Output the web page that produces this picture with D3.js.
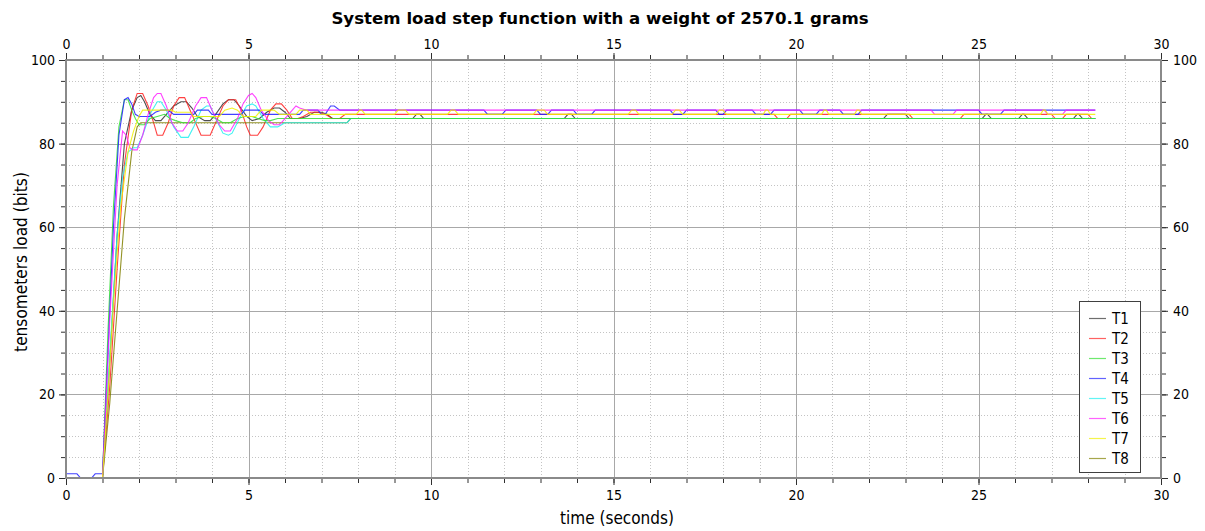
<!DOCTYPE html>
<html><head><meta charset="utf-8">
<script src="https://cdn.jsdelivr.net/npm/d3@7"></script>
<style>
html,body{margin:0;padding:0;background:#fff;}
svg{display:block;}
text{font-family:"DejaVu Sans Condensed","DejaVu Sans","Noto Sans",sans-serif;fill:#000;}
</style></head>
<body>
<svg id="chart" width="1205" height="531"></svg>
<script>
// ---- data (vertices [time s, load bits]) ----
const seriesNames = ["T1","T2","T3","T4","T5","T6","T7","T8"];
const seriesColors = ["#303030","#ff2020","#30e030","#2020ff","#20f0f0","#ff20ff","#f0f000","#808000"];
const drawOrder = [0,1,7,4,2,3,5,6];
const xTicks = [0,5,10,15,20,25,30];
const yTicks = [0,20,40,60,80,100];

const T1 = [[0,0],[1.0,0],[1.2,28],[1.4,58],[1.6,80],[1.8,88],[1.95,91],[2.05,91.5],[2.15,90],[2.3,87],[2.45,85.5],[2.6,85.5],[2.75,87],[2.95,89],[3.15,90],[3.3,90],[3.45,88.5],[3.6,86.5],[3.8,85.5],[3.95,85.5],[4.1,87],[4.3,89.5],[4.45,90.5],[4.6,90.5],[4.75,89],[4.95,86.5],[5.1,85.5],[5.3,86],[5.5,87.5],[5.7,88.5],[5.85,88.5],[6.0,87.5],[6.15,86],[6.4,86],[6.6,86.5],[6.8,87.5],[7.0,87.5],[7.15,87],[7.3,86],[9.5,86],[9.6,87],[9.7,87],[9.8,86],[13.65,86],[13.75,87],[13.85,87],[13.95,86],[22.4,86],[22.5,87],[23.0,87],[23.1,86],[25.1,86],[25.2,87],[25.25,87],[25.35,86],[26.1,86],[26.2,87],[26.25,87],[26.35,86],[27.6,86],[27.7,87],[27.75,87],[27.85,86],[28.2,86]];
const T2 = [[0,0],[1.0,0],[1.2,22],[1.4,50],[1.6,75],[1.8,88],[1.95,92],[2.1,92],[2.25,89],[2.4,85],[2.5,82],[2.65,82],[2.8,85],[2.95,89],[3.1,91],[3.25,91],[3.4,88],[3.6,84],[3.7,82],[3.95,82],[4.1,85],[4.3,89],[4.45,90.5],[4.65,90.5],[4.8,88],[4.95,84],[5.05,82],[5.25,82],[5.4,84],[5.6,88],[5.75,89.5],[5.9,89.5],[6.05,88],[6.2,86],[6.35,86],[6.5,86.5],[6.7,87.5],[6.9,87.5],[7.1,87],[7.3,86],[7.5,86],[7.65,87],[19.4,87],[19.5,86],[19.75,86],[19.85,87],[23.1,87],[23.2,86],[24.5,86],[24.6,87],[27.0,87],[27.1,86],[27.3,86],[27.4,87],[28.0,87],[28.1,86],[28.2,86]];
const T3 = [[0,0],[1.0,0],[1.15,35],[1.3,65],[1.45,84],[1.6,90.5],[1.7,90.5],[1.8,88],[1.9,86],[2.0,84.5],[2.15,84.5],[2.3,86],[2.5,86.5],[2.7,87],[2.85,86],[3.0,85.5],[3.2,85],[3.4,85],[3.55,86],[3.75,86.5],[3.95,86.5],[4.1,86],[4.3,85],[4.5,85],[4.7,86],[4.9,86.5],[5.1,86.5],[5.25,86],[5.45,85.5],[5.6,85.5],[5.8,86],[28.2,86]];
const T4 = [[0,1],[0.3,1],[0.4,0],[0.7,0],[0.8,1],[1.0,1],[1.15,30],[1.3,60],[1.45,82],[1.6,90.5],[1.7,91],[1.8,89.5],[1.9,87],[2.0,86.5],[2.3,86.5],[2.45,87.5],[2.6,88],[2.8,88],[2.95,87],[3.5,87],[3.6,88],[3.9,88],[4.0,87],[4.8,87],[4.9,88],[5.3,88],[5.4,87],[6.4,87],[6.5,88],[6.9,88],[7.0,87],[7.1,87],[7.25,89],[7.35,89],[7.5,88],[11.45,88],[11.55,87],[11.95,87],[12.05,88],[12.9,88],[13.0,87],[13.2,87],[13.3,88],[13.9,88],[14.0,87],[14.4,87],[14.5,88],[16.55,88],[16.65,87],[16.9,87],[17.0,88],[17.8,88],[17.9,87],[18.0,87],[18.1,88],[18.8,88],[18.9,87],[19.3,87],[19.4,88],[20.1,88],[20.2,87],[20.55,87],[20.65,88],[21.2,88],[21.3,87],[21.7,87],[21.8,88],[25.0,88],[25.1,87],[25.6,87],[25.7,88],[28.2,88]];
const T5 = [[0,0],[1.0,0],[1.2,30],[1.4,58],[1.55,72],[1.7,78],[1.85,79],[1.95,79],[2.1,82],[2.3,87],[2.5,90],[2.6,90],[2.75,88],[2.95,84],[3.15,81.5],[3.35,81.5],[3.5,84],[3.7,88],[3.85,89],[3.95,89],[4.1,86],[4.3,82.5],[4.45,82],[4.55,82.5],[4.75,86],[4.95,89],[5.1,89.5],[5.2,89],[5.4,86],[5.6,84],[5.8,84],[6.0,85],[7.7,85],[7.8,86],[28.2,86]];
const T6 = [[0,0],[1.0,0],[1.2,38],[1.4,70],[1.55,83],[1.65,82],[1.75,79],[1.85,78.5],[1.95,78.5],[2.1,82],[2.25,87],[2.4,91],[2.5,92],[2.6,92],[2.75,89],[2.9,85],[3.05,83],[3.2,83],[3.35,85],[3.55,89],[3.7,91],[3.85,91],[4.0,88],[4.2,84.5],[4.35,83],[4.5,83],[4.7,86],[4.85,89.5],[5.0,91.5],[5.1,92],[5.2,91],[5.35,88],[5.55,85.5],[5.7,84.5],[5.85,84.5],[6.0,86],[6.2,88],[6.3,89],[6.4,88.5],[6.6,88],[23.7,88],[23.8,87],[24.3,87],[24.4,88],[26.8,88],[26.9,87],[27.3,87],[27.4,88],[28.2,88]];
const T7 = [[0,0],[1.0,0],[1.15,20],[1.3,42],[1.5,65],[1.7,78],[1.85,83],[2.0,86.5],[2.1,88],[2.9,88],[3.0,87.5],[3.4,87.5],[3.5,86.5],[4.2,86.5],[4.35,88],[4.55,88.5],[4.7,88],[4.85,86.5],[5.2,86.5],[5.35,88],[5.7,88],[5.85,87],[6.3,87],[6.4,88],[6.6,88],[6.7,87],[7.95,87],[8.05,88],[8.1,88],[8.2,87],[9.0,87],[9.1,88],[9.3,88],[9.4,87],[10.45,87],[10.55,88],[10.65,88],[10.75,87],[12.8,87],[12.9,88],[13.1,88],[13.2,87],[15.4,87],[15.5,88],[15.6,88],[15.7,87],[16.6,87],[16.7,88],[16.8,88],[16.9,87],[17.8,87],[17.9,88],[18.0,88],[18.1,87],[19.1,87],[19.17,88],[19.23,88],[19.3,87],[20.7,87],[20.77,88],[20.83,88],[20.9,87],[21.6,87],[21.67,88],[21.73,88],[21.8,87],[26.7,87],[26.77,88],[26.83,88],[26.9,87],[28.2,87]];
const T8 = [[0,0],[1.0,0],[1.2,18],[1.4,40],[1.6,62],[1.8,78],[1.95,84],[2.05,85],[7.7,85],[7.8,86],[28.2,86]];
const seriesData = [T1,T2,T3,T4,T5,T6,T7,T8];

// ---- layout ----
const L = 66, R = 1161, TOP = 60, BOT = 478;
const svg = d3.select("#chart");
const x = d3.scaleLinear().domain([0,30]).range([L,R]);
const y = d3.scaleLinear().domain([0,100]).range([BOT,TOP]);

// grid
const gGrid = svg.append("g");
const xMinor = d3.range(0,31).filter(d=>d%5!==0);
const yMinor = d3.range(0,101,5).filter(d=>d%20!==0);
gGrid.selectAll(".vx").data(xMinor).join("line")
  .attr("x1",d=>Math.round(x(d))+0.5).attr("x2",d=>Math.round(x(d))+0.5).attr("y1",TOP).attr("y2",BOT)
  .attr("stroke","#c4c4c4").attr("stroke-dasharray","1,2");
gGrid.selectAll(".hy").data(yMinor).join("line")
  .attr("y1",d=>Math.round(y(d))+0.5).attr("y2",d=>Math.round(y(d))+0.5).attr("x1",L).attr("x2",R)
  .attr("stroke","#c4c4c4").attr("stroke-dasharray","1,2");
gGrid.selectAll(".vX").data(xTicks.slice(1,-1)).join("line")
  .attr("x1",d=>Math.round(x(d))+0.5).attr("x2",d=>Math.round(x(d))+0.5).attr("y1",TOP).attr("y2",BOT)
  .attr("stroke","#a8a8a8");
gGrid.selectAll(".hY").data(yTicks.slice(1,-1)).join("line")
  .attr("y1",d=>Math.round(y(d))+0.5).attr("y2",d=>Math.round(y(d))+0.5).attr("x1",L).attr("x2",R)
  .attr("stroke","#a8a8a8");

// axes (ticks + labels)
function styleAxis(g){
  g.select(".domain").remove();
  g.selectAll(".tick line").attr("stroke","#303030");
  g.selectAll(".tick text").style("font-size","14px").attr("fill","#000");
}
const xMinorAll = d3.range(0,31);
const yMinorAll = d3.range(0,101,5);
svg.append("g").attr("transform",`translate(0,${BOT})`).call(d3.axisBottom(x).tickValues(xMinorAll).tickSize(5).tickFormat("")).call(styleAxis);
svg.append("g").attr("transform",`translate(0,${TOP})`).call(d3.axisTop(x).tickValues(xMinorAll).tickSize(5).tickFormat("")).call(styleAxis);
svg.append("g").attr("transform",`translate(${L},0)`).call(d3.axisLeft(y).tickValues(yMinorAll).tickSize(5).tickFormat("")).call(styleAxis);
svg.append("g").attr("transform",`translate(${R},0)`).call(d3.axisRight(y).tickValues(yMinorAll).tickSize(5).tickFormat("")).call(styleAxis);

svg.append("g").attr("transform",`translate(0,${BOT})`).call(d3.axisBottom(x).tickValues(xTicks).tickSize(7).tickPadding(5).tickFormat(d3.format("d"))).call(styleAxis);
svg.append("g").attr("transform",`translate(0,${TOP})`).call(d3.axisTop(x).tickValues(xTicks).tickSize(7).tickPadding(4).tickFormat(d3.format("d"))).call(styleAxis);
svg.append("g").attr("transform",`translate(${L},0)`).call(d3.axisLeft(y).tickValues(yTicks).tickSize(7).tickPadding(4).tickFormat(d3.format("d"))).call(styleAxis);
svg.append("g").attr("transform",`translate(${R},0)`).call(d3.axisRight(y).tickValues(yTicks).tickSize(7).tickPadding(5).tickFormat(d3.format("d"))).call(styleAxis);

// lines
svg.append("clipPath").attr("id","plotclip").append("rect").attr("x",L).attr("y",TOP).attr("width",R-L).attr("height",BOT-TOP);
const line = d3.line().x(d=>x(d[0])).y(d=>y(d[1]));
svg.append("g").attr("clip-path","url(#plotclip)")
  .selectAll("path").data(drawOrder).join("path")
  .attr("d",i=>line(seriesData[i])).attr("fill","none")
  .attr("stroke",i=>seriesColors[i]).attr("stroke-width",1.1).attr("stroke-opacity",0.85);

// frame
svg.append("rect").attr("x",L).attr("y",TOP).attr("width",R-L).attr("height",BOT-TOP)
  .attr("fill","none").attr("stroke","#8a8a8a").attr("stroke-width",2);

// legend
const lg = svg.append("g");
lg.append("rect").attr("x",1079.5).attr("y",301.5).attr("width",61).attr("height",171)
  .attr("fill","#fff").attr("stroke","#404040").attr("stroke-width",1);
const rows = lg.selectAll("g.row").data(seriesNames).join("g")
  .attr("transform",(d,i)=>`translate(0,${318 + i*20})`);
rows.append("line").attr("x1",1089).attr("x2",1106).attr("y1",0.5).attr("y2",0.5)
  .attr("stroke",(d,i)=>seriesColors[i]).attr("stroke-width",1.2).attr("stroke-opacity",0.7);
rows.append("text").attr("x",1112).attr("y",5.5).text(d=>d).style("font-size","15px");

// titles
const title = svg.append("text").attr("x",600).attr("y",24).attr("text-anchor","middle")
  .style("font-family","'DejaVu Sans',sans-serif")
  .style("font-size","16px").style("font-weight","bold")
  .text("System load step function with a weight of 2570.1 grams");
const tw = title.node().getComputedTextLength();
title.style("font-size", (16*538/tw).toFixed(2)+"px");
svg.append("text").attr("x",617).attr("y",524).attr("text-anchor","middle")
  .style("font-size","17px").text("time (seconds)");
const ylab = svg.append("text").attr("transform","translate(27,262) rotate(-90)").attr("text-anchor","middle")
  .style("font-size","17px").text("tensometers load (bits)");
const yw = ylab.node().getComputedTextLength();
ylab.style("font-size", (17*180/yw).toFixed(2)+"px");
</script>
</body></html>
